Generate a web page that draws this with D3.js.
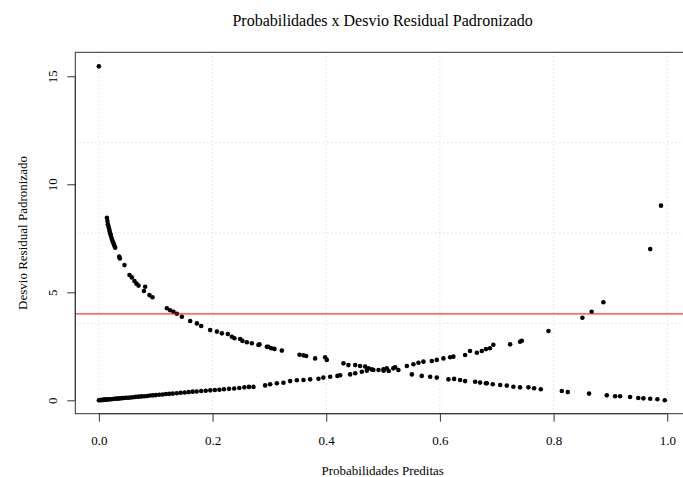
<!DOCTYPE html>
<html>
<head>
<meta charset="utf-8">
<script src="https://cdn.jsdelivr.net/npm/d3@7"></script>
<style>
  html, body { margin: 0; padding: 0; background: #fff; }
  svg { display: block; }
  text { font-family: "Liberation Serif", "Times New Roman", serif; fill: #000; }
</style>
</head>
<body>
<script>
// Observations with y = 1: residual falls as the predicted probability rises
const probSucesso = [
  0.0000, 0.0141, 0.0150, 0.0158, 0.0170, 0.0181, 0.0190, 0.0199, 0.0208, 0.0216, 0.0228,
  0.0239, 0.0252, 0.0264, 0.0275, 0.0287, 0.0357, 0.0369, 0.0450, 0.0538, 0.0580,
  0.0626, 0.0661, 0.0697, 0.0792, 0.0814, 0.0890, 0.0943, 0.1196, 0.1254, 0.1312,
  0.1372, 0.1460, 0.1606, 0.1724, 0.1800, 0.1958, 0.2076, 0.2164, 0.2269, 0.2340,
  0.2385, 0.2485, 0.2526, 0.2603, 0.2691, 0.2807, 0.2825, 0.2955, 0.2980, 0.3031,
  0.3089, 0.3219, 0.3530, 0.3600, 0.3647, 0.3805, 0.3980, 0.4010, 0.4303, 0.4390,
  0.4510, 0.4596, 0.4684, 0.4742, 0.4830, 0.4920, 0.5010, 0.5100, 0.5180, 0.5270,
  0.5506, 0.5680, 0.5828, 0.5945, 0.6150, 0.6250, 0.6355, 0.6443, 0.6620, 0.6707,
  0.6810, 0.6825, 0.6930, 0.7060, 0.7177, 0.7293, 0.7410, 0.7557, 0.7657, 0.7775,
  0.8144, 0.8250, 0.8624, 0.8936, 0.9082, 0.9170, 0.9346, 0.9490, 0.9580, 0.9700,
  0.9826, 0.9956
];
const desvioSucesso = [
  15.46, 8.45, 8.30, 8.15, 8.04, 7.93, 7.83, 7.73, 7.65, 7.57, 7.47,
  7.38, 7.30, 7.22, 7.14, 7.06, 6.65, 6.57, 6.26, 5.80, 5.69,
  5.52, 5.40, 5.31, 5.06, 5.26, 4.87, 4.77, 4.26, 4.17, 4.10,
  4.01, 3.87, 3.67, 3.56, 3.44, 3.25, 3.18, 3.10, 3.07, 2.94,
  2.87, 2.84, 2.75, 2.69, 2.64, 2.56, 2.59, 2.48, 2.48, 2.41,
  2.38, 2.30, 2.11, 2.08, 2.05, 1.94, 1.99, 1.87, 1.71, 1.63,
  1.63, 1.59, 1.56, 1.48, 1.40, 1.40, 1.37, 1.36, 1.48, 1.40,
  1.20, 1.13, 1.09, 1.05, 0.97, 0.99, 0.94, 0.89, 0.86, 0.82,
  0.79, 0.79, 0.74, 0.71, 0.68, 0.63, 0.60, 0.60, 0.56, 0.51,
  0.43, 0.38, 0.31, 0.23, 0.19, 0.19, 0.15, 0.11, 0.09, 0.07,
  0.05, 0.00
];

// Observations with y = 0: residual grows with the predicted probability
const probFracasso = [
  0.000, 0.002, 0.004, 0.006, 0.008, 0.010, 0.012, 0.014, 0.016, 0.019, 0.022,
  0.025, 0.028, 0.031, 0.034, 0.037, 0.040, 0.044, 0.048, 0.052, 0.056,
  0.060, 0.065, 0.070, 0.075, 0.080, 0.085, 0.090, 0.095, 0.100, 0.106,
  0.112, 0.118, 0.124, 0.130, 0.137, 0.144, 0.151, 0.158, 0.165, 0.172,
  0.180, 0.188, 0.196, 0.204, 0.212, 0.220, 0.229, 0.238, 0.247, 0.256,
  0.264, 0.272, 0.2925, 0.3013, 0.3131, 0.3247, 0.3365, 0.3483, 0.3600, 0.3717,
  0.3863, 0.3950, 0.4069, 0.4197, 0.4245, 0.4420, 0.4510, 0.4626, 0.4714, 0.4802,
  0.5006, 0.5066, 0.5212, 0.5418, 0.5534, 0.5622, 0.5710, 0.5857, 0.5945, 0.6062,
  0.6180, 0.6237, 0.6443, 0.6530, 0.6650, 0.6737, 0.6810, 0.6880, 0.6940, 0.7235,
  0.7410, 0.7440, 0.7910, 0.8507, 0.8670, 0.8876, 0.9700, 0.9890
];
const desvioFracasso = [
  0.00, 0.01, 0.01, 0.02, 0.02, 0.03, 0.03, 0.04, 0.04, 0.05, 0.05,
  0.06, 0.07, 0.08, 0.08, 0.09, 0.10, 0.11, 0.12, 0.12, 0.13,
  0.14, 0.16, 0.17, 0.18, 0.19, 0.20, 0.22, 0.23, 0.24, 0.26,
  0.27, 0.29, 0.30, 0.31, 0.33, 0.35, 0.36, 0.38, 0.40, 0.41,
  0.43, 0.44, 0.46, 0.48, 0.49, 0.51, 0.53, 0.55, 0.57, 0.60,
  0.62, 0.62, 0.69, 0.74, 0.79, 0.81, 0.89, 0.93, 0.94, 0.97,
  1.00, 1.05, 1.09, 1.13, 1.16, 1.20, 1.25, 1.32, 1.37, 1.43,
  1.43, 1.48, 1.53, 1.59, 1.67, 1.74, 1.79, 1.82, 1.87, 1.94,
  1.99, 2.02, 2.10, 2.28, 2.20, 2.28, 2.37, 2.41, 2.57, 2.59,
  2.71, 2.76, 3.21, 3.82, 4.10, 4.54, 7.00, 9.01
];

const xTicks = [0.0, 0.2, 0.4, 0.6, 0.8, 1.0];
const yTicks = [0, 5, 10, 15];
const limiteCorte = 4;

const titulo = "Probabilidades x Desvio Residual Padronizado";
const rotuloX = "Probabilidades Preditas";
const rotuloY = "Desvio Residual Padronizado";

const W = 683, H = 477;
const box = { left: 75.3, right: 690, top: 52.3, bottom: 413.7 };

const x = d3.scaleLinear().domain([-0.0415, 1.04]).range([box.left, box.right]);
const y = d3.scaleLinear().domain([-0.62, 16.11]).range([box.bottom, box.top]);

const svg = d3.select("body").append("svg")
  .attr("width", W).attr("height", H);

// Grid: vertical lines at the x ticks, horizontal lines splitting the y range in 4
const grid = svg.append("g")
  .attr("stroke", "#d3d3d3").attr("stroke-width", 1)
  .attr("stroke-dasharray", "1,3").attr("fill", "none");
grid.selectAll("line.v").data(xTicks).join("line")
  .attr("class", "v")
  .attr("x1", d => x(d)).attr("x2", d => x(d))
  .attr("y1", box.top).attr("y2", box.bottom);
const [yLo, yHi] = y.domain();
const hGrid = d3.range(1, 4).map(i => yLo + i * (yHi - yLo) / 4);
grid.selectAll("line.h").data(hGrid).join("line")
  .attr("class", "h")
  .attr("x1", box.left).attr("x2", box.right)
  .attr("y1", d => y(d)).attr("y2", d => y(d));

// Points
const pontos = probSucesso.map((p, i) => [p, desvioSucesso[i]])
  .concat(probFracasso.map((p, i) => [p, desvioFracasso[i]]));
svg.append("g").selectAll("circle").data(pontos).join("circle")
  .attr("cx", d => x(d[0])).attr("cy", d => y(d[1]))
  .attr("r", 2.3).attr("fill", "#000");

// Reference line
svg.append("line")
  .attr("x1", box.left).attr("x2", box.right)
  .attr("y1", y(limiteCorte)).attr("y2", y(limiteCorte))
  .attr("stroke", "#ff0000").attr("stroke-width", 1);

// Plot frame
svg.append("rect")
  .attr("x", box.left).attr("y", box.top)
  .attr("width", box.right - box.left).attr("height", box.bottom - box.top)
  .attr("fill", "none").attr("stroke", "#333").attr("stroke-width", 1);

// Bottom axis
const xAxis = d3.axisBottom(x).tickValues(xTicks).tickFormat(d3.format(".1f"))
  .tickSize(8).tickPadding(14);
const gx = svg.append("g").attr("transform", `translate(0,${box.bottom})`).call(xAxis);
gx.select(".domain").attr("d", `M${x(xTicks[0])},0H${x(xTicks[xTicks.length - 1])}`)
  .attr("stroke", "#333");
gx.selectAll(".tick line").attr("stroke", "#333");
gx.selectAll(".tick text")
  .style("font-family", '"Liberation Serif", serif').style("font-size", "13px")
  .attr("fill", "#000");

// Left axis, labels parallel to the axis
const yAxis = d3.axisLeft(y).tickValues(yTicks).tickFormat(d3.format("d")).tickSize(8);
const gy = svg.append("g").attr("transform", `translate(${box.left},0)`).call(yAxis);
gy.select(".domain").attr("d", `M0,${y(yTicks[0])}V${y(yTicks[yTicks.length - 1])}`)
  .attr("stroke", "#333");
gy.selectAll(".tick line").attr("stroke", "#333");
gy.selectAll(".tick text").remove();
gy.selectAll(".tick").append("text")
  .attr("transform", `translate(${56.7 - box.left},0) rotate(-90)`)
  .attr("text-anchor", "middle")
  .style("font-family", '"Liberation Serif", serif').style("font-size", "13px")
  .attr("fill", "#000")
  .text(d => d3.format("d")(d));

const cx = (box.left + box.right) / 2;
const cy = (box.top + box.bottom) / 2;

svg.append("text")
  .attr("x", cx).attr("y", 25.5)
  .attr("text-anchor", "middle")
  .style("font-size", "16px")
  .text(titulo);

svg.append("text")
  .attr("x", cx).attr("y", 474.5)
  .attr("text-anchor", "middle")
  .style("font-size", "13px")
  .text(rotuloX);

svg.append("text")
  .attr("transform", `translate(26.5,${cy}) rotate(-90)`)
  .attr("text-anchor", "middle")
  .style("font-size", "13px")
  .text(rotuloY);
</script>
</body>
</html>
